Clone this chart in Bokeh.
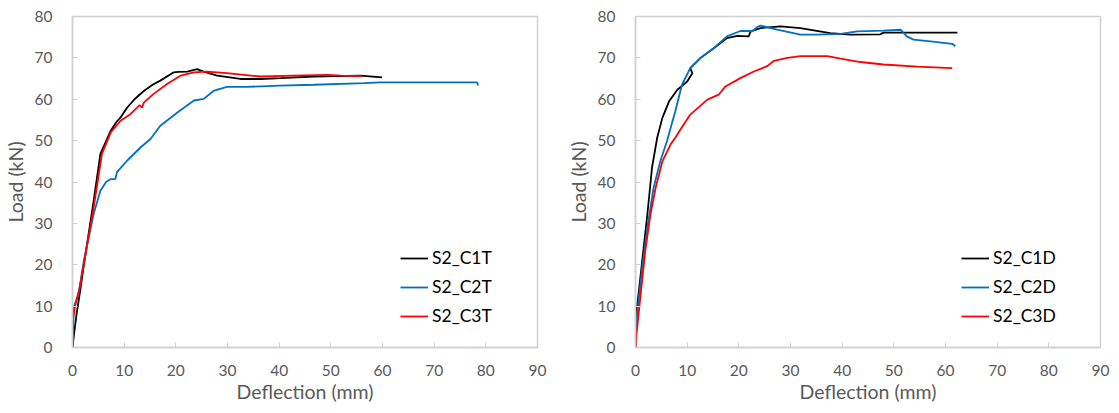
from bokeh.plotting import figure
from bokeh.layouts import row
from bokeh.models import Range1d, SingleIntervalTicker, Legend, LegendItem
from bokeh.embed import file_html
from bokeh.resources import INLINE

# ---- Data ----
# Left panel: T specimens
c1t_d = [0, 0.3, 0.8, 1.5, 2.2, 4.1, 5.4, 7.4, 8.5, 9.3, 10.6, 12.0, 13.8, 15.5, 17.0, 19.6, 20.5, 22.2, 24.1, 25.4, 28.0, 32.5, 36.4, 40.3, 46.7, 55.7, 59.9]
c1t_L = [0, 3.3, 8.2, 13.8, 20.0, 35.5, 46.8, 52.4, 54.5, 55.6, 58.0, 60.0, 62.0, 63.5, 64.5, 66.5, 66.6, 66.7, 67.3, 66.7, 65.7, 64.9, 64.9, 65.1, 65.5, 65.7, 65.3]

c2t_d = [0, 0.26, 0.9, 1.3, 2.2, 4.1, 5.4, 6.5, 7.4, 8.3, 8.6, 10.6, 13.2, 15.1, 17.0, 20.3, 23.5, 25.4, 27.4, 29.9, 33.8, 40.2, 46.7, 56.4, 59.6, 78.3, 78.5]
c2t_L = [0, 9.7, 12.1, 14.0, 21.0, 32.3, 37.9, 40.0, 40.7, 40.7, 42.4, 45.2, 48.4, 50.4, 53.6, 56.8, 59.7, 60.1, 62.1, 63.0, 63.0, 63.3, 63.5, 63.9, 64.1, 64.1, 63.3]

c3t_d = [0, 0.1, 0.5, 1.3, 2.2, 4.1, 5.7, 7.4, 9.3, 11.2, 13.0, 13.5, 13.8, 15.7, 18.3, 20.9, 23.5, 26.0, 29.9, 36.4, 42.8, 49.3, 52.0, 56.0]
c3t_L = [0, 7.0, 10.0, 13.8, 20.2, 33.9, 46.8, 52.0, 54.8, 56.4, 58.6, 58.0, 59.2, 61.3, 63.7, 65.7, 66.5, 66.7, 66.3, 65.5, 65.7, 65.9, 65.7, 65.6]

# Right panel: D specimens
c1d_d = [0, 0.1, 0.3, 1.3, 2.3, 3.2, 4.2, 5.2, 6.5, 8.1, 10.0, 11.0, 10.6, 12.6, 15.2, 17.7, 19.7, 21.9, 22.3, 24.2, 28.1, 31.9, 37.7, 41.6, 47.4, 48.0, 62.3]
c1d_L = [0, 8.9, 9.7, 21.0, 32.2, 43.5, 50.7, 55.5, 59.5, 62.3, 64.3, 66.3, 67.5, 70.0, 72.4, 74.8, 75.3, 75.2, 76.4, 77.2, 77.6, 77.2, 76.0, 75.6, 75.7, 76.1, 76.1]

c2d_d = [0, 0.2, 1.3, 2.3, 3.5, 4.8, 6.1, 7.7, 9.0, 10.6, 12.6, 15.2, 17.7, 20.3, 21.9, 22.6, 23.5, 24.2, 27.4, 31.9, 35.2, 39.7, 42.9, 48.0, 51.3, 52.5, 53.8, 57.1, 61.3, 61.9]
c2d_L = [0, 6.5, 19.4, 29.0, 38.6, 45.0, 49.9, 57.1, 63.5, 67.5, 70.0, 72.4, 75.2, 76.5, 76.5, 76.4, 77.4, 77.8, 76.8, 75.6, 75.6, 75.8, 76.4, 76.6, 76.8, 75.2, 74.4, 74.0, 73.4, 72.8]

c3d_d = [0, 0.2, 1.0, 1.9, 2.9, 3.9, 5.2, 6.8, 7.7, 8.7, 10.6, 13.9, 16.1, 17.4, 20.3, 22.9, 25.5, 26.8, 29.4, 31.9, 37.1, 39.7, 43.5, 48.0, 54.5, 61.3]
c3d_L = [0, 3.3, 12.9, 23.4, 32.2, 38.6, 45.0, 49.1, 50.7, 52.7, 56.3, 59.9, 61.1, 63.1, 65.1, 66.7, 68.0, 69.3, 70.0, 70.4, 70.4, 69.8, 69.0, 68.4, 67.9, 67.5]

x_label = "Deflection (mm)"
y_label = "Load (kN)"

FONT = "Lato"
GRAY = "#595959"
FRAME = "#d0d0d0"
BLACK = "#000000"
BLUE = "#0070C0"
RED = "#FF0000"


def make_panel(width, left_border, right_border, series, legend_x):
    p = figure(width=width, height=413, output_backend="svg", toolbar_location=None,
               x_range=Range1d(0, 90), y_range=Range1d(0, 80),
               min_border_left=left_border, min_border_right=right_border,
               min_border_top=16, min_border_bottom=66)
    p.outline_line_color = FRAME
    p.outline_line_width = 1.5
    p.xgrid.visible = False
    p.ygrid.visible = False
    p.background_fill_color = "white"
    p.border_fill_color = "white"
    p.xaxis.ticker = SingleIntervalTicker(interval=10)
    p.yaxis.ticker = SingleIntervalTicker(interval=10)
    for ax in (p.xaxis[0], p.yaxis[0]):
        ax.axis_line_color = FRAME
        ax.axis_line_width = 1.5
        ax.major_tick_line_color = FRAME
        ax.major_tick_in = 5
        ax.major_tick_out = 0
        ax.minor_tick_line_color = None
        ax.major_label_text_font = FONT
        ax.major_label_text_font_size = "15.5px"
        ax.major_label_text_color = GRAY
        ax.axis_label_text_font = FONT
        ax.axis_label_text_font_size = "19.5px"
        ax.axis_label_text_color = GRAY
        ax.axis_label_text_font_style = "normal"
    p.xaxis.axis_label = x_label
    p.yaxis.axis_label = y_label
    p.xaxis.major_label_standoff = 13
    p.xaxis.axis_label_standoff = 1
    p.yaxis.major_label_standoff = 16
    p.yaxis.axis_label_standoff = 5

    items = []
    for name, xs, ys, color in series:
        r = p.line(xs, ys, line_color=color, line_width=1.8)
        items.append(LegendItem(label=name, renderers=[r]))
    legend = Legend(items=items, location=(legend_x, 21))
    legend.background_fill_alpha = 0
    legend.border_line_color = None
    legend.label_text_font = FONT
    legend.label_text_font_size = "17.5px"
    legend.label_text_color = BLACK
    legend.glyph_width = 28
    legend.glyph_height = 20
    legend.label_height = 20
    legend.label_standoff = 4
    legend.spacing = 8
    legend.padding = 0
    legend.margin = 0
    p.add_layout(legend)
    return p


left = make_panel(560, 72, 23, [
    ("S2_C1T", c1t_d, c1t_L, BLACK),
    ("S2_C2T", c2t_d, c2t_L, BLUE),
    ("S2_C3T", c3t_d, c3t_L, RED),
], 328)

right = make_panel(559, 75, 19, [
    ("S2_C1D", c1d_d, c1d_L, BLACK),
    ("S2_C2D", c2d_d, c2d_L, BLUE),
    ("S2_C3D", c3d_d, c3d_L, RED),
], 326)

layout = row(left, right, spacing=0)
open("out.html", "w").write(file_html(layout, INLINE))
